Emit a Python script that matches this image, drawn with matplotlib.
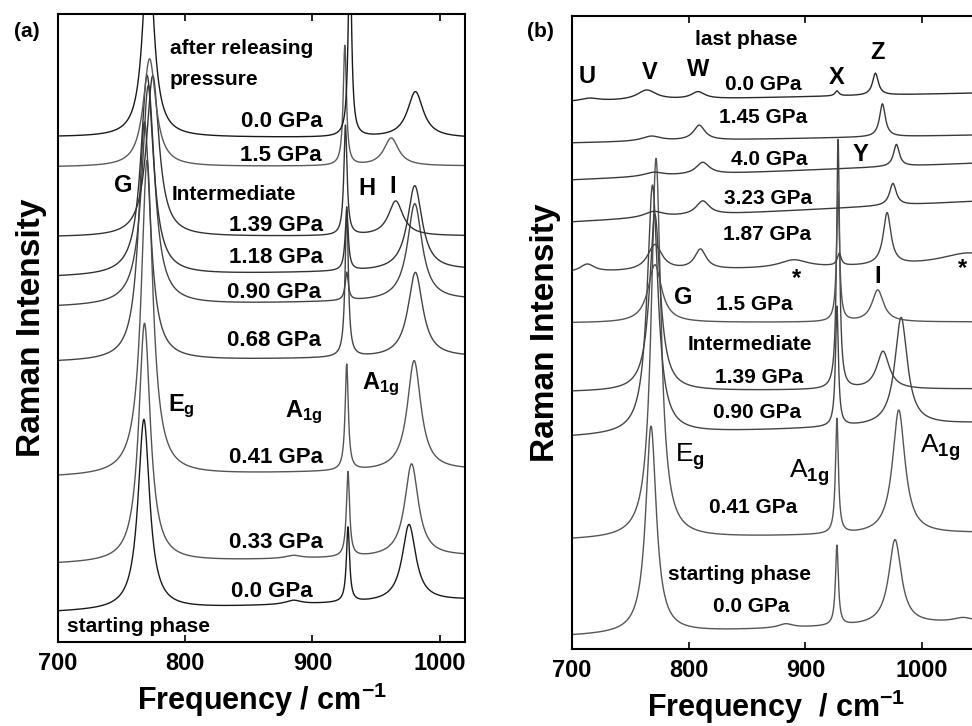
import matplotlib

matplotlib.use("Agg")

import matplotlib.pyplot as plt
import numpy as np

plt.rcParams["font.family"] = ["Liberation Sans", "DejaVu Sans"]
plt.rcParams["font.weight"] = "bold"
plt.rcParams["mathtext.fontset"] = "custom"
plt.rcParams["mathtext.rm"] = "Liberation Sans"
plt.rcParams["mathtext.bf"] = "Liberation Sans:bold"
plt.rcParams["mathtext.it"] = "Liberation Sans:italic"

# ---- panel (a): compression / release series ----
# each spectrum: baseline at 700 and at 1020 cm-1, then peaks (centre, fwhm, height)
A_XLIM = (700, 1020)
A_YLIM = (0, 628)
A_NAMES = ["0.0 GPa", "0.33 GPa", "0.41 GPa", "0.68 GPa", "0.90 GPa",
           "1.18 GPa", "1.39 GPa", "1.5 GPa", "0.0 GPa"]
A_BASE_LEFT = [30, 78, 165, 280, 335, 365, 405, 475, 505]
A_BASE_RIGHT = [42, 86, 172, 285, 342, 372, 406, 476, 504]
A_PEAKS = [
    [(767.5, 11, 190), (885, 15, 4), (928, 3, 75), (976, 13, 77)],
    [(768, 11, 239), (885, 15, 3), (928, 3, 85), (978, 13, 93)],
    [(770, 11, 315), (927, 3, 106), (980, 13, 110)],
    [(768, 11, 239), (927, 3, 150), (981, 14, 85)],
    [(771, 12, 220), (927, 3, 28), (980.5, 14, 97)],
    [(770, 12, 200), (927, 3, 60), (980.5, 14, 85)],
    [(774.5, 12, 161), (926, 3, 110), (965.5, 14, 35)],
    [(772, 12, 108), (925.5, 3, 120), (962, 14, 28)],
    [(771, 10, 200), (929.5, 3, 200), (981, 15, 46)],
]
A_COLORS = ["#1a1a1a", "#555555", "#555555", "#444444", "#444444",
            "#333333", "#333333", "#5a5a5a", "#1a1a1a"]
# right edge of each pressure label (cm-1) and its height
A_LABEL_X = [900, 908, 908, 907, 907, 908, 908, 907, 908]
A_LABEL_Y = [51, 100, 185, 302, 350, 385, 417, 487, 521]

# ---- panel (b): full pressure cycle ----
B_XLIM = (700, 1050)
B_YLIM = (0, 633)
B_NAMES = ["0.0 GPa", "0.41 GPa", "0.90 GPa", "1.39 GPa", "1.5 GPa",
           "1.87 GPa", "3.23 GPa", "4.0 GPa", "1.45 GPa", "0.0 GPa"]
B_BASE_LEFT = [13, 109, 212, 257, 326, 376, 427, 469, 506, 547]
B_BASE_RIGHT = [27, 116, 226, 260, 327, 384, 448, 486, 514, 556]
B_PEAKS = [
    [(767.7, 11, 207), (883, 15, 4), (927, 3, 80), (976.8, 13, 85), (1035, 20, 4)],
    [(772, 10, 380), (927, 3, 115), (980, 13, 124)],
    [(769, 11, 249), (927, 3, 120), (982, 13, 108)],
    [(771, 11, 177), (928, 3, 250), (966.5, 13, 38)],
    [(771, 14, 58), (928, 3, 130), (962, 12, 32)],
    [(713, 15, 8), (771, 15, 26), (810, 12, 20), (890, 30, 8),
     (929, 4, 12), (970, 8, 52), (1040, 60, 12)],
    [(770, 20, 6), (812, 14, 14), (975, 7, 22)],
    [(770, 20, 4), (812, 14, 12), (978, 6, 22)],
    [(768, 20, 5), (809, 12, 15), (966, 6, 33)],
    [(715, 20, 3), (764, 20, 10), (808, 14, 7), (927, 4, 5), (960, 6, 22)],
]
B_COLORS = ["#555555", "#555555", "#444444", "#444444", "#555555",
            "#444444", "#3a3a3a", "#3a3a3a", "#3a3a3a", "#2a2a2a"]
B_LABEL_X = [886, 893, 896, 898, 889, 905, 906, 902, 902, 897]
B_LABEL_Y = [42, 141, 236, 271, 344, 414, 450, 489, 531, 564]


def spectrum(x, base_left, base_right, peaks, xlim):
    """Linear baseline plus Lorentzian bands."""
    t = (x - xlim[0]) / (xlim[1] - xlim[0])
    y = base_left + (base_right - base_left) * t
    for centre, fwhm, height in peaks:
        g = fwhm / 2.0
        y = y + height * g**2 / ((x - centre) ** 2 + g**2)
    return y


def style_axes(ax, xlim, ylim):
    ax.set_xlim(*xlim)
    ax.set_ylim(*ylim)
    ax.set_xticks([700, 800, 900, 1000])
    ax.set_yticks([])
    ax.tick_params(axis="x", direction="in", length=5, width=1.2, top=True,
                   labelsize=17, pad=7)
    for lab in ax.get_xticklabels():
        lab.set_fontweight("bold")
    for spine in ax.spines.values():
        spine.set_linewidth(1.5)


fig = plt.figure(figsize=(9.72, 7.26), dpi=100)
ax_a = fig.add_axes([0.0597, 0.1157, 0.4187, 0.865])
ax_b = fig.add_axes([0.5885, 0.1061, 0.4202, 0.872])

# panel (a)
xa = np.linspace(A_XLIM[0], A_XLIM[1], 2000)
for bl, br, pk, col in zip(A_BASE_LEFT, A_BASE_RIGHT, A_PEAKS, A_COLORS):
    ax_a.plot(xa, spectrum(xa, bl, br, pk, A_XLIM), color=col, lw=1.0)
for name, lx, ly in zip(A_NAMES, A_LABEL_X, A_LABEL_Y):
    ax_a.text(lx, ly, name, ha="right", va="center", fontsize=16, fontweight="bold")

ax_a.text(788, 594, "after releasing", ha="left", va="center", fontsize=15)
ax_a.text(788, 563, "pressure", ha="left", va="center", fontsize=15)
ax_a.text(789, 448, "Intermediate", ha="left", va="center", fontsize=15)
ax_a.text(707, 16, "starting phase", ha="left", va="center", fontsize=15)
ax_a.text(751, 457, "G", ha="center", va="center", fontsize=17)
ax_a.text(943, 454, "H", ha="center", va="center", fontsize=17)
ax_a.text(963, 456, "I", ha="center", va="center", fontsize=17)
ax_a.text(786.4, 231, r"E$_{\mathbf{g}}$", ha="left", va="baseline", fontsize=17)
ax_a.text(878.3, 225, r"A$_{\mathbf{1g}}$", ha="left", va="baseline", fontsize=17)
ax_a.text(938.8, 253, r"A$_{\mathbf{1g}}$", ha="left", va="baseline", fontsize=17)

style_axes(ax_a, A_XLIM, A_YLIM)
ax_a.set_xlabel(r"Frequency / cm$^{\mathbf{-1}}$", fontsize=22, fontweight="bold",
                labelpad=4)
ax_a.set_ylabel("Raman Intensity", fontsize=24, fontweight="bold", labelpad=8)

# panel (b)
xb = np.linspace(B_XLIM[0], B_XLIM[1], 2200)
for bl, br, pk, col in zip(B_BASE_LEFT, B_BASE_RIGHT, B_PEAKS, B_COLORS):
    ax_b.plot(xb, spectrum(xb, bl, br, pk, B_XLIM), color=col, lw=1.0)
for name, lx, ly in zip(B_NAMES, B_LABEL_X, B_LABEL_Y):
    ax_b.text(lx, ly, name, ha="right", va="center", fontsize=15, fontweight="bold")

ax_b.text(805.4, 609, "last phase", ha="left", va="center", fontsize=15)
ax_b.text(799.4, 304, "Intermediate", ha="left", va="center", fontsize=15)
ax_b.text(782, 74, "starting phase", ha="left", va="center", fontsize=15)
for letter, lx, ly in [("U", 712.9, 572), ("V", 766.8, 576), ("W", 808, 579),
                       ("X", 927, 571), ("Z", 962, 596), ("Y", 946.8, 494),
                       ("G", 795, 351), ("I", 962, 372)]:
    ax_b.text(lx, ly, letter, ha="center", va="center", fontsize=17)
ax_b.text(892, 370, "*", ha="center", va="center", fontsize=17)
ax_b.text(1035, 380, "*", ha="center", va="center", fontsize=17)
ax_b.text(788.3, 187, r"E$_{\mathrm{g}}$", ha="left", va="baseline", fontsize=19,
          fontweight="normal")
ax_b.text(886, 171, r"A$_{\mathrm{1g}}$", ha="left", va="baseline", fontsize=19,
          fontweight="normal")
ax_b.text(998, 196, r"A$_{\mathrm{1g}}$", ha="left", va="baseline", fontsize=19,
          fontweight="normal")

style_axes(ax_b, B_XLIM, B_YLIM)
ax_b.set_xlabel(r"Frequency  / cm$^{\mathbf{-1}}$", fontsize=22, fontweight="bold",
                labelpad=4)
ax_b.set_ylabel("Raman Intensity", fontsize=24, fontweight="bold", labelpad=8)

fig.text(0.028, 0.956, "(a)", ha="center", va="center", fontsize=15)
fig.text(0.556, 0.956, "(b)", ha="center", va="center", fontsize=15)

fig.savefig("out.png", dpi=100)
